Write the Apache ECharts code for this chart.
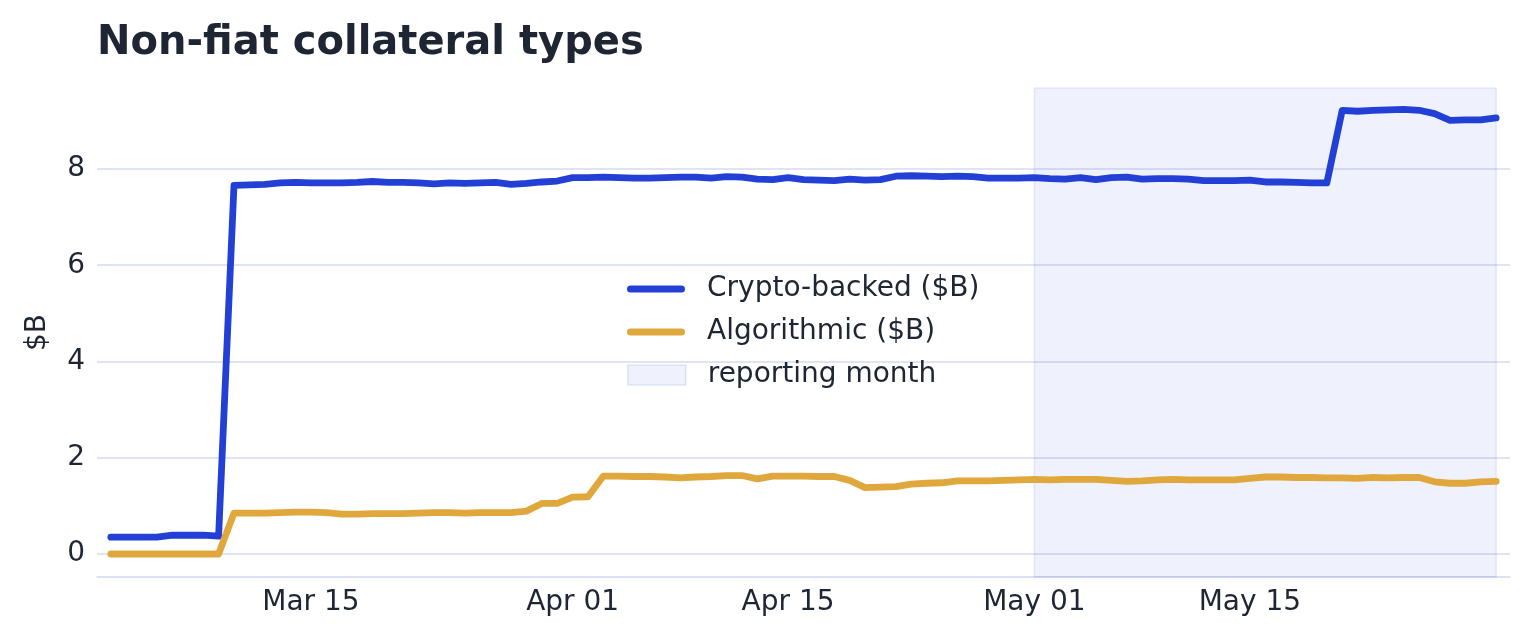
<!DOCTYPE html>
<html>
<head>
<meta charset="utf-8">
<script src="https://cdn.jsdelivr.net/npm/echarts@6/dist/echarts.min.js"></script>
<style>
html,body{margin:0;padding:0;background:#fff;}
#chart{width:1534px;height:641px;}
</style>
</head>
<body>
<div id="chart"></div>
<script>
// ---- data (daily, 2 Mar – 31 May) ----
const startDate = '2025-03-02';
const cryptoBacked = [
  0.35,0.35,0.35,0.35,0.39,0.39,0.39,0.37,
  7.66,7.67,7.68,7.71,7.72,7.71,7.71,7.71,7.72,7.74,7.72,7.72,
  7.71,7.69,7.71,7.70,7.71,7.72,7.68,7.70,7.73,7.75,
  7.82,7.82,7.83,7.82,7.81,7.81,7.82,7.83,7.83,7.81,
  7.84,7.83,7.79,7.78,7.82,7.78,7.77,7.76,7.79,7.77,
  7.78,7.85,7.86,7.85,7.84,7.85,7.84,7.81,7.81,7.81,
  7.82,7.80,7.79,7.82,7.78,7.82,7.83,7.79,7.80,7.80,
  7.79,7.76,7.76,7.76,7.77,7.73,7.73,7.72,7.71,7.71,
  9.22,9.20,9.22,9.23,9.24,9.22,9.15,9.01,9.02,9.02,9.06
];
const algorithmic = [
  0,0,0,0,0,0,0,0,
  0.85,0.85,0.85,0.86,0.87,0.87,0.86,0.83,0.83,0.84,0.84,0.84,
  0.85,0.86,0.86,0.85,0.86,0.86,0.86,0.89,1.05,1.05,
  1.18,1.19,1.62,1.62,1.61,1.61,1.60,1.58,1.60,1.61,
  1.63,1.63,1.56,1.62,1.62,1.62,1.61,1.61,1.53,1.38,
  1.39,1.40,1.45,1.47,1.48,1.52,1.52,1.52,1.53,1.54,
  1.55,1.54,1.55,1.55,1.55,1.53,1.51,1.52,1.54,1.55,
  1.54,1.54,1.54,1.54,1.57,1.60,1.60,1.59,1.59,1.58,
  1.58,1.57,1.59,1.58,1.59,1.59,1.50,1.47,1.47,1.50,1.51
];
const seriesNames = ['Crypto-backed ($B)', 'Algorithmic ($B)', 'reporting month'];
const reportingMonth = ['2025-05-01', '2025-05-31'];
const xTickDates = ['2025-03-15', '2025-04-01', '2025-04-15', '2025-05-01', '2025-05-15'];
const xTickLabels = ['Mar 15', 'Apr 01', 'Apr 15', 'May 01', 'May 15'];
const yTicks = [0, 2, 4, 6, 8];

// ---- build ----
const DAY = 86400000;
const ts = s => Date.parse(s + 'T00:00:00Z');
const t0 = ts(startDate);
const dates = cryptoBacked.map((_, i) => t0 + i * DAY);
const tEnd = dates[dates.length - 1];
const xTickTs = xTickDates.map(ts);

const FONT = 'DejaVu Sans';
const TXT = '#1e2533';
const BLUE = '#2340d6';
const ORANGE = '#e0a83c';
const LINE_ICON = 'path://M3.5,0 L54.5,0 A3.5,3.5 0 0 1 54.5,7 L3.5,7 A3.5,3.5 0 0 1 3.5,0 Z';

const chart = echarts.init(document.getElementById('chart'), null, {renderer: 'canvas'});
chart.setOption({
  animation: false,
  backgroundColor: '#ffffff',
  textStyle: {fontFamily: FONT, color: TXT},
  title: {
    text: 'Non-fiat collateral types',
    left: 97, top: 24, padding: 0,
    textStyle: {fontFamily: FONT, fontWeight: 'bold', fontSize: 40, color: TXT}
  },
  grid: {left: 97, right: 24, top: 88, bottom: 64, containLabel: false},
  legend: [{
    data: [
      {name: seriesNames[0], icon: LINE_ICON, itemStyle: {color: BLUE}},
      {name: seriesNames[1], icon: LINE_ICON, itemStyle: {color: ORANGE}}
    ],
    orient: 'vertical', left: 627, top: 275, padding: 0,
    itemWidth: 58, itemHeight: 7, itemGap: 15,
    selectedMode: false,
    textStyle: {fontFamily: FONT, fontSize: 28, color: TXT, lineHeight: 28, padding: [0, 0, 0, 17]}
  }, {
    data: [
      {name: seriesNames[2], icon: 'rect', itemStyle: {color: 'rgba(35,64,214,0.07)', borderColor: 'rgba(35,64,214,0.12)', borderWidth: 1.5}}
    ],
    orient: 'vertical', left: 627, top: 361, padding: 0,
    itemWidth: 58, itemHeight: 20,
    selectedMode: false,
    textStyle: {fontFamily: FONT, fontSize: 28, color: TXT, lineHeight: 28, padding: [0, 0, 0, 17]}
  }],
  xAxis: {
    type: 'value',
    min: t0 - 0.9 * DAY,
    max: tEnd + 0.9 * DAY,
    axisLine: {show: true, onZero: false, lineStyle: {color: '#cfd6ee', width: 1.5}},
    axisTick: {show: false, customValues: xTickTs},
    splitLine: {show: false},
    axisLabel: {
      customValues: xTickTs,
      margin: 12,
      fontFamily: FONT, fontSize: 28, color: TXT,
      formatter: v => {
        const k = xTickTs.indexOf(v);
        return k >= 0 ? xTickLabels[k] : '';
      }
    }
  },
  yAxis: {
    type: 'value',
    min: -0.478, max: 9.683,
    name: '$B',
    nameLocation: 'middle',
    nameGap: 45,
    nameTextStyle: {fontFamily: FONT, fontSize: 28, color: TXT},
    axisLine: {show: false},
    axisTick: {show: false, customValues: yTicks},
    axisLabel: {customValues: yTicks, margin: 12, padding: [3, 0, 0, 0], fontFamily: FONT, fontSize: 28, color: TXT},
    splitLine: {show: true, lineStyle: {color: '#d5dbf0', width: 1.5}}
  },
  series: [
    {
      name: seriesNames[2],
      type: 'line',
      data: [],
      silent: true,
      markArea: {
        silent: true,
        itemStyle: {color: 'rgba(35,64,214,0.07)', borderColor: 'rgba(35,64,214,0.10)', borderWidth: 1.5},
        data: [[{xAxis: ts(reportingMonth[0])}, {xAxis: ts(reportingMonth[1])}]]
      }
    },
    {
      name: seriesNames[0],
      type: 'line',
      data: cryptoBacked.map((v, i) => [dates[i], v]),
      showSymbol: false, symbol: 'none',
      lineStyle: {color: BLUE, width: 6.8, cap: 'round', join: 'round'},
      itemStyle: {color: BLUE}
    },
    {
      name: seriesNames[1],
      type: 'line',
      data: algorithmic.map((v, i) => [dates[i], v]),
      showSymbol: false, symbol: 'none',
      lineStyle: {color: ORANGE, width: 6.8, cap: 'round', join: 'round'},
      itemStyle: {color: ORANGE}
    }
  ]
});
</script>
</body>
</html>
